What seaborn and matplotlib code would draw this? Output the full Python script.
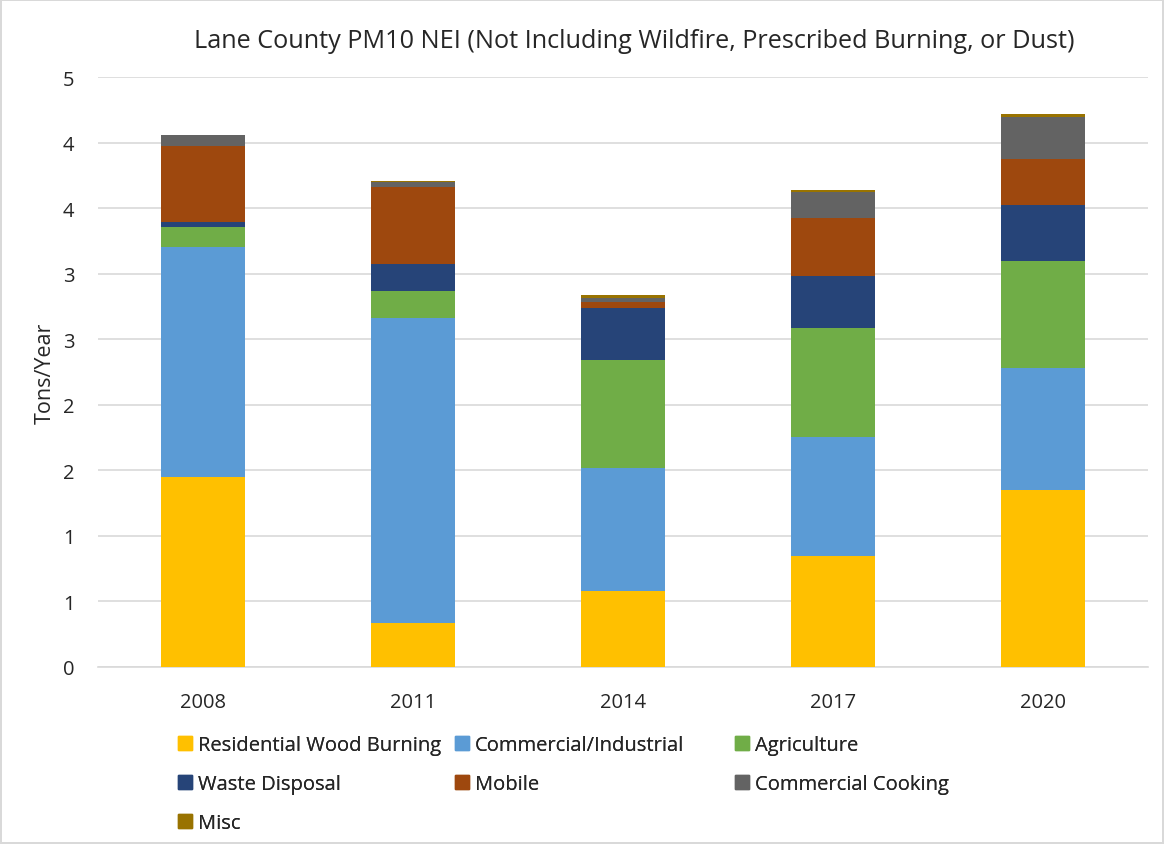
import matplotlib
matplotlib.use("Agg")
import matplotlib.pyplot as plt
import matplotlib.patches as mpatches
import seaborn as sns
import numpy as np

# Lane County PM10 emissions by source category (tons/year)
years = ["2008", "2011", "2014", "2017", "2020"]
residential_wood = [1.452, 0.336, 0.580, 0.847, 1.350]
commercial_industrial = [1.754, 2.328, 0.938, 0.910, 0.928]
agriculture = [0.148, 0.202, 0.821, 0.829, 0.821]
waste_disposal = [0.038, 0.208, 0.399, 0.394, 0.427]
mobile = [0.580, 0.590, 0.048, 0.443, 0.349]
commercial_cooking = [0.086, 0.033, 0.031, 0.203, 0.323]
misc = [0.003, 0.006, 0.018, 0.010, 0.018]

series_names = ["Residential Wood Burning", "Commercial/Industrial", "Agriculture",
                "Waste Disposal", "Mobile", "Commercial Cooking", "Misc"]
series_values = [residential_wood, commercial_industrial, agriculture,
                 waste_disposal, mobile, commercial_cooking, misc]
colors = ["#FFC000", "#5B9BD5", "#70AD47", "#264478", "#9E480E", "#636363", "#997300"]

y_ticks = [0, 0.5, 1.0, 1.5, 2.0, 2.5, 3.0, 3.5, 4.0, 4.5]
y_tick_labels = ["0", "1", "1", "2", "2", "3", "3", "4", "4", "5"]

sns.set_style("white")
plt.rcParams["font.family"] = ["Open Sans", "DejaVu Sans"]

W, H = 1164, 845
fig = plt.figure(figsize=(W / 100, H / 100), dpi=100)
fig.patch.set_edgecolor("#D9D9D9")
fig.patch.set_linewidth(1.5)
ax = fig.add_axes([98 / W, 1 - 668 / H, 1050 / W, 590 / H])

bottom = np.zeros(len(years))
for name, vals, col in zip(series_names, series_values, colors):
    sns.barplot(x=years, y=vals, bottom=bottom, color=col, width=0.4,
                saturation=1, ax=ax, zorder=3, linewidth=0)
    bottom = bottom + np.array(vals)

ax.set_xlim(-0.5, len(years) - 0.5)
ax.set_ylim(0, 4.5)
ax.set_yticks(y_ticks)
ax.set_yticklabels(y_tick_labels)
ax.yaxis.grid(True, color="#D9D9D9", linewidth=1.2, zorder=0)
ax.set_axisbelow(True)
for s in ["top", "right", "left"]:
    ax.spines[s].set_visible(False)
ax.spines["bottom"].set_color("#D9D9D9")
ax.spines["bottom"].set_linewidth(1.2)
ax.tick_params(axis="both", length=0, labelsize=14.5, colors="#262626")
ax.tick_params(axis="x", pad=18)
ax.tick_params(axis="y", pad=17)
ax.set_ylabel("Tons/Year", fontsize=15.5, color="#262626")
ax.yaxis.set_label_coords(-42 / 1050, 0.5)
ax.set_xlabel("")

fig.text(634 / W, 1 - 42 / H,
         "Lane County PM10 NEI (Not Including Wildfire, Prescribed Burning, or Dust)",
         ha="center", va="center", fontsize=18.2, color="#262626")

# Legend laid out as three fixed-width columns, filled row by row
handles = [mpatches.Patch(color=c, label=n) for n, c in zip(series_names, colors)]
columns = [[0, 3, 6], [1, 4], [2, 5]]
col_x = [178, 455, 735]
for idx, x0 in zip(columns, col_x):
    leg = fig.legend([handles[i] for i in idx], [series_names[i] for i in idx],
                     loc="upper left", bbox_to_anchor=(x0 / W, 1 - 736 / H),
                     frameon=False, fontsize=14.5, handlelength=0.7, handleheight=0.7,
                     handletextpad=0.3, labelspacing=0.95, labelcolor="#262626",
                     borderpad=0, borderaxespad=0)
    fig.add_artist(leg)

fig.savefig("out.png", dpi=100)
